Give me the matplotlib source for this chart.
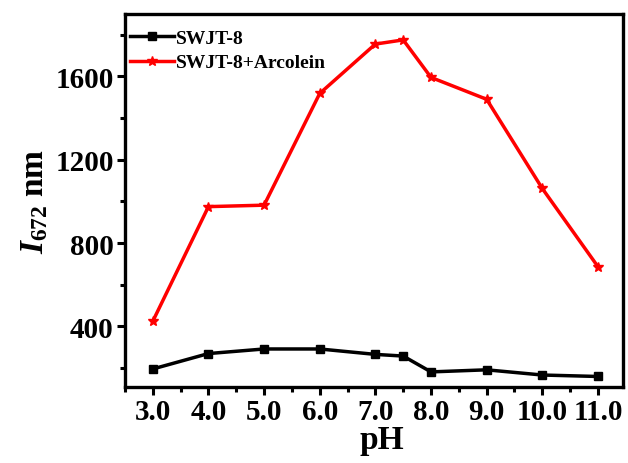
import numpy as np
import matplotlib
matplotlib.use("Agg")
import matplotlib.pyplot as plt
from matplotlib.ticker import MultipleLocator

# pH values and emission intensity at 672 nm
ph = [3.0, 4.0, 5.0, 6.0, 7.0, 7.5, 8.0, 9.0, 10.0, 11.0]
swjt8 = [196, 270, 292, 292, 266, 258, 182, 192, 167, 160]
swjt8_arcolein = [425, 975, 982, 1518, 1755, 1775, 1595, 1490, 1062, 687]
xtick_vals = [3.0, 4.0, 5.0, 6.0, 7.0, 8.0, 9.0, 10.0, 11.0]

plt.rcParams["font.family"] = "Liberation Serif"
plt.rcParams["font.weight"] = "bold"
plt.rcParams["mathtext.fontset"] = "custom"
plt.rcParams["mathtext.rm"] = "Liberation Serif:bold"
plt.rcParams["mathtext.it"] = "Liberation Serif:italic:bold"

fig = plt.figure(figsize=(6.28, 4.64), dpi=100)
ax = fig.add_axes([0.199, 0.164, 0.793, 0.804])

ax.plot(ph, swjt8, color="black", lw=2.5, marker="s", ms=6, label="SWJT-8")
ax.plot(ph, swjt8_arcolein, color="red", lw=2.5, marker="*", ms=7, label="SWJT-8+Arcolein")

ax.set_xlim(2.5, 11.45)
ax.set_ylim(110, 1900)
ax.set_xticks(xtick_vals)
ax.set_xticklabels([f"{v:.1f}" for v in xtick_vals])
ax.xaxis.set_minor_locator(MultipleLocator(0.5))
ax.yaxis.set_major_locator(MultipleLocator(400))
ax.yaxis.set_minor_locator(MultipleLocator(200))

for s in ax.spines.values():
    s.set_linewidth(2.4)
ax.tick_params(which="major", direction="out", length=6, width=2.2, labelsize=21, pad=2)
ax.tick_params(which="minor", direction="out", length=3.5, width=2.2)
for lab in ax.get_xticklabels() + ax.get_yticklabels():
    lab.set_fontweight("bold")

ax.set_xlabel("pH", fontsize=24, fontweight="bold", labelpad=0)
ax.xaxis.set_label_coords(0.515, -0.1)
ax.set_ylabel(r"$I_{\mathit{672}}$ nm", fontsize=24, fontweight="bold", labelpad=4)

leg = ax.legend(loc="upper left", bbox_to_anchor=(-0.012, 0.987), frameon=False,
                fontsize=14, handlelength=2.3, handletextpad=0.1,
                borderaxespad=0.15, labelspacing=0.35)
for t in leg.get_texts():
    t.set_fontweight("bold")

fig.savefig("out.png", dpi=100)
